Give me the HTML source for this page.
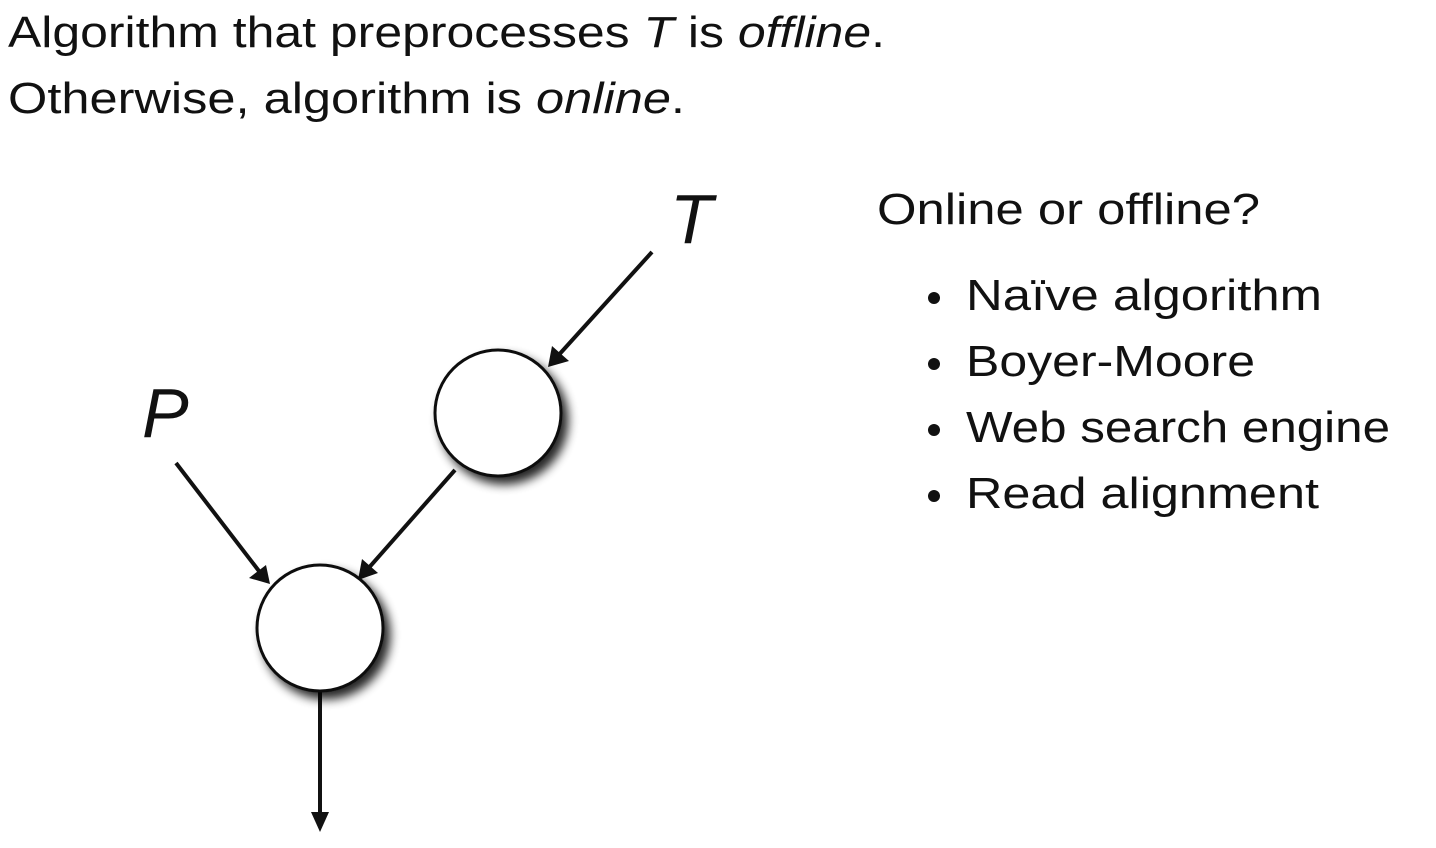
<!DOCTYPE html>
<html><head><meta charset="utf-8"><style>
html,body{margin:0;padding:0;background:#fff;}
svg{display:block;}
text{font-family:"Liberation Sans",sans-serif;fill:#111;}
</style></head><body>
<svg width="1436" height="848" viewBox="0 0 1436 848" xmlns="http://www.w3.org/2000/svg">
<defs>
<filter id="sh" x="-30%" y="-30%" width="170%" height="170%">
<feGaussianBlur in="SourceAlpha" stdDeviation="5"/>
<feOffset dx="6" dy="7" result="b"/>
<feComponentTransfer><feFuncA type="linear" slope="0.85"/></feComponentTransfer>
<feMerge><feMergeNode/><feMergeNode in="SourceGraphic"/></feMerge>
</filter>
</defs>
<text x="8" y="47" font-size="44" textLength="877" lengthAdjust="spacingAndGlyphs">Algorithm that preprocesses <tspan font-style="italic">T</tspan> is <tspan font-style="italic">offline</tspan>.</text>
<text x="8" y="113" font-size="44" textLength="677" lengthAdjust="spacingAndGlyphs">Otherwise, algorithm is <tspan font-style="italic">online</tspan>.</text>

<text x="670" y="243" font-size="70" font-style="italic">T</text>
<text x="142" y="437" font-size="70" font-style="italic">P</text>

<g stroke="#111" stroke-width="4" fill="none">
<line x1="652" y1="252" x2="556" y2="358"/>
<line x1="455" y1="470" x2="366" y2="571"/>
<line x1="176" y1="463" x2="262" y2="575"/>
<line x1="320" y1="692" x2="320" y2="815"/>
</g>
<g fill="#111">
<polygon points="548,367 552,346 569,361"/>
<polygon points="358,580 362,559 378,573"/>
<polygon points="270,584 249,578 266,565"/>
<polygon points="320,832 311,812 329,812"/>
</g>

<circle cx="498" cy="413" r="63" fill="#fff" stroke="#111" stroke-width="3" filter="url(#sh)"/>
<circle cx="320" cy="628" r="63" fill="#fff" stroke="#111" stroke-width="3" filter="url(#sh)"/>

<text x="877" y="224" font-size="44" textLength="383" lengthAdjust="spacingAndGlyphs">Online or offline?</text>
<g font-size="44">
<circle cx="934" cy="298" r="6" fill="#111"/>
<text x="966" y="310" textLength="356" lengthAdjust="spacingAndGlyphs">Naïve algorithm</text>
<circle cx="934" cy="364" r="6" fill="#111"/>
<text x="966" y="376" textLength="289" lengthAdjust="spacingAndGlyphs">Boyer-Moore</text>
<circle cx="934" cy="430" r="6" fill="#111"/>
<text x="966" y="442" textLength="424" lengthAdjust="spacingAndGlyphs">Web search engine</text>
<circle cx="934" cy="496" r="6" fill="#111"/>
<text x="966" y="508" textLength="353" lengthAdjust="spacingAndGlyphs">Read alignment</text>
</g>
</svg>
</body></html>
